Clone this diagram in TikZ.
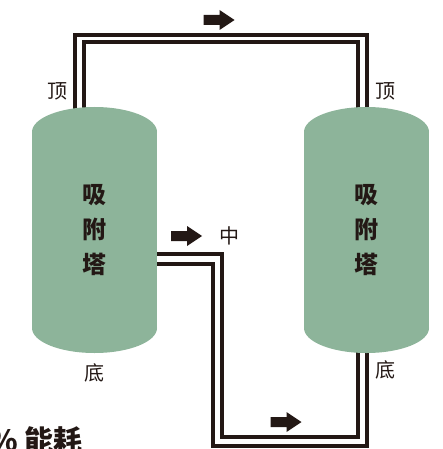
\documentclass[tikz,border=0pt]{standalone}
\usepackage{fontspec}
\setmainfont{Noto Sans CJK SC}
\definecolor{tower}{RGB}{141,180,154}
\definecolor{ink}{RGB}{35,24,21}
\tikzset{flowarrow/.pic={\fill[ink] (-15.5,-5)--(0.5,-5)--(0.5,-10)--(15.5,0)--(0.5,10)--(0.5,5)--(-15.5,5)--cycle;}}
\begin{document}
\begin{tikzpicture}[x=1pt,y=-1pt,line join=miter,
 pipe/.style={ink,line width=3.6pt},
 lab/.style={inner sep=0pt,text=ink,font=\fontsize{20}{20}\selectfont},
 tag/.style={inner sep=0pt,text=ink,align=center,font=\fontsize{24}{35}\selectfont\bfseries}]
\useasboundingbox (0,0) rectangle (442,449);
% pipe ends
\coordinate (L-top-o) at (75,113); \coordinate (L-top-i) at (84,113);
\coordinate (R-top-i) at (358,113); \coordinate (R-top-o) at (367,113);
\coordinate (L-mid-u) at (150,254); \coordinate (L-mid-l) at (150,264);
\coordinate (R-bot-i) at (358,346); \coordinate (R-bot-o) at (367,346);
% pipes
\draw[pipe] (L-top-o)--(75,35)-|(R-top-o);
\draw[pipe] (L-top-i)--(84,42)-|(R-top-i);
\draw[pipe] (L-mid-u)-|(222,437)-|(R-bot-i);
\draw[pipe] (L-mid-l)-|(213,446)-|(R-bot-o);
% towers
\foreach \cx/\nm in {94.5/L,366.5/R}{
\fill[tower] (\cx-62.5,132) rectangle (\cx+62.5,328);
\fill[tower] (\cx,132) ellipse [x radius=62.5,y radius=25];
\fill[tower] (\cx,328) ellipse [x radius=62.5,y radius=25];
\node[tag] (\nm-tag) at (\cx,230) {吸\\附\\塔};
}
% flow
\pic at (219,20) {flowarrow};
\pic at (186.5,236) {flowarrow};
\pic at (286,422) {flowarrow};
% labels
\node[lab] (L-top) at (57,91) {顶};
\node[lab] (R-top) at (385,91) {顶};
\node[lab] (L-bot) at (94,373) {底};
\node[lab] (R-bot) at (385,370) {底};
\node[lab] (mid) at (229,236) {中};
\node[inner sep=0pt,text=ink,anchor=north east,font=\fontsize{29}{29}\selectfont\bfseries] (cost) at (83,426) {\% 能耗};
\end{tikzpicture}
\end{document}
